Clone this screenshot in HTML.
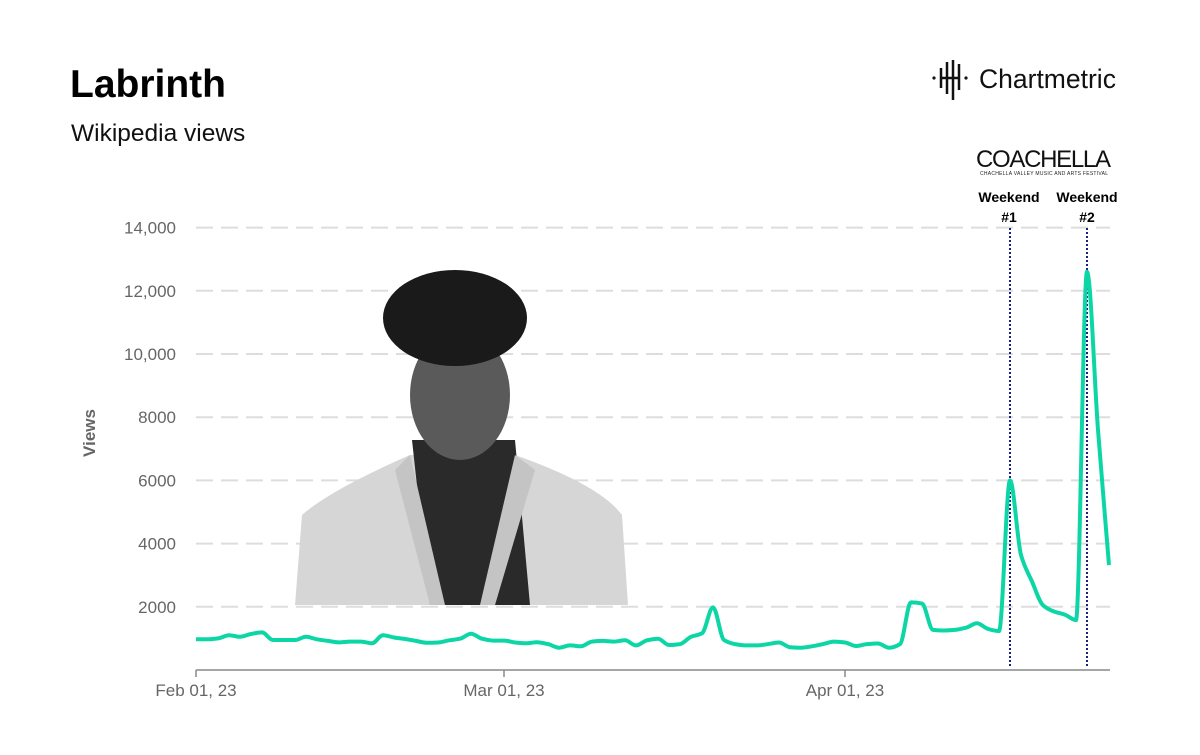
<!DOCTYPE html>
<html><head><meta charset="utf-8"><style>
body{margin:0;width:1200px;height:750px;background:#fff;overflow:hidden;font-family:"Liberation Sans",sans-serif;}
</style></head><body>
<svg width="1200" height="750" xmlns="http://www.w3.org/2000/svg">
<text x="70" y="97" font-size="39" font-weight="bold" fill="#000">Labrinth</text>
<text x="71" y="141" font-size="24.5" fill="#111">Wikipedia views</text>
<g>
<g stroke="#111" stroke-width="2.5" fill="none"><line x1="941" y1="68" x2="941" y2="88"/><line x1="947" y1="62" x2="947" y2="94"/><line x1="953" y1="60" x2="953" y2="100"/><line x1="959" y1="64" x2="959" y2="90"/><line x1="941" y1="78" x2="959" y2="78"/></g>
<circle cx="934" cy="78" r="1.6" fill="#111"/><circle cx="966" cy="78" r="1.6" fill="#111"/>
<text x="979" y="88" font-size="26.5" fill="#111">Chartmetric</text></g>
<g><text x="976" y="167" font-size="24" fill="#111" letter-spacing="1" textLength="136">COACHELLA</text>
<text x="980" y="175" font-size="5" fill="#222" textLength="128">CHACHELLA VALLEY MUSIC AND ARTS FESTIVAL</text></g>
<g font-size="14" font-weight="bold" fill="#000" text-anchor="middle">
<text x="1009" y="202">Weekend</text><text x="1009" y="222">#1</text>
<text x="1087" y="202">Weekend</text><text x="1087" y="222">#2</text></g>
<g id="grid"></g>
<g>
<path d="M295,605 L302,515 Q330,490 410,455 L515,455 Q600,485 622,515 L628,605 Z" fill="#d6d6d6"/>
<path d="M412,440 L515,440 L530,605 L430,605 Z" fill="#2a2a2a"/>
<path d="M410,455 L445,605 L430,605 L395,470 Z" fill="#c4c4c4"/>
<path d="M515,455 L480,605 L495,605 L535,470 Z" fill="#c4c4c4"/>
<ellipse cx="460" cy="395" rx="50" ry="65" fill="#5a5a5a"/>
<ellipse cx="455" cy="318" rx="72" ry="48" fill="#1a1a1a"/>
</g>
<text transform="translate(95,433) rotate(-90)" font-size="17" font-weight="bold" fill="#666" text-anchor="middle">Views</text>
<g id="yticks"></g><g id="xaxis"></g>
<line x1="1010" y1="228" x2="1010" y2="668" stroke="#1a237e" stroke-width="2" stroke-dasharray="2,2"/>
<line x1="1087" y1="228" x2="1087" y2="668" stroke="#1a237e" stroke-width="2" stroke-dasharray="2,2"/>
<path id="line" fill="none" stroke="#0dd6a6" stroke-width="4" stroke-linejoin="round"/>
</svg>
<script>
const views=[970,970,1000,1100,1050,1140,1190,950,950,950,1050,970,920,875,900,900,845,1100,1030,980,920,860,870,940,990,1150,990,930,930,870,845,880,820,705,780,750,900,920,900,940,780,940,990,790,820,1050,1160,1980,950,820,780,780,820,870,720,705,750,820,900,870,760,820,840,705,820,2140,2100,1270,1250,1270,1340,1480,1300,1230,6000,3640,2800,2050,1850,1750,1580,12600,7600,3320];
const yTicks=[2000,4000,6000,8000,10000,12000,14000];
const yLabels=["2000","4000","6000","8000","10,000","12,000","14,000"];
const xTickDays=[0,28,59];
const xLabels=["Feb 01, 23","Mar 01, 23","Apr 01, 23"];
const NS="http://www.w3.org/2000/svg";
const x=d=>196+d*11.0;
const y=v=>670-v*0.0316;
function mk(t,a,p){const e=document.createElementNS(NS,t);for(const k in a)e.setAttribute(k,a[k]);p.appendChild(e);return e;}
const g=document.getElementById('grid'),yt=document.getElementById('yticks'),xa=document.getElementById('xaxis');
yTicks.forEach((v,i)=>{
const l=mk('line',{x1:196,x2:1110,y1:y(v),y2:y(v),stroke:'#ddd','stroke-width':2,'stroke-dasharray':'17,8'},g);


const t=mk('text',{x:176,y:y(v)+6,'font-size':17,fill:'#666','text-anchor':'end'},yt);
t.textContent=yLabels[i];


});
const ax=mk('line',{x1:196,x2:1110,y1:670,y2:670,stroke:'#888','stroke-width':1.5},xa);


xTickDays.forEach((d,i)=>{
mk('line',{x1:x(d),x2:x(d),y1:670,y2:677,stroke:'#888','stroke-width':1.5},xa);
const t=mk('text',{x:x(d),y:696,'font-size':17,fill:'#666','text-anchor':'middle'},xa);
t.textContent=xLabels[i];


});
// monotone cubic (Fritsch-Carlson)
const P=views.map((v,i)=>[x(i),y(v)]);
const n=P.length,dx=[],sl=[],m=[];
for(let i=0;i<n-1;i++){dx[i]=P[i+1][0]-P[i][0];sl[i]=(P[i+1][1]-P[i][1])/dx[i];}
m[0]=sl[0];m[n-1]=sl[n-2];
for(let i=1;i<n-1;i++){m[i]=(sl[i-1]*sl[i]<=0)?0:(2/(1/sl[i-1]+1/sl[i]));}
let d='M'+P[0][0].toFixed(1)+','+P[0][1].toFixed(1);
for(let i=0;i<n-1;i++){const h=dx[i]/3;
d+=' C'+(P[i][0]+h).toFixed(1)+','+(P[i][1]+m[i]*h).toFixed(1)+' '+(P[i+1][0]-h).toFixed(1)+','+(P[i+1][1]-m[i+1]*h).toFixed(1)+' '+P[i+1][0].toFixed(1)+','+P[i+1][1].toFixed(1);}
document.getElementById('line').setAttribute('d',d);
</script>
</body></html>
